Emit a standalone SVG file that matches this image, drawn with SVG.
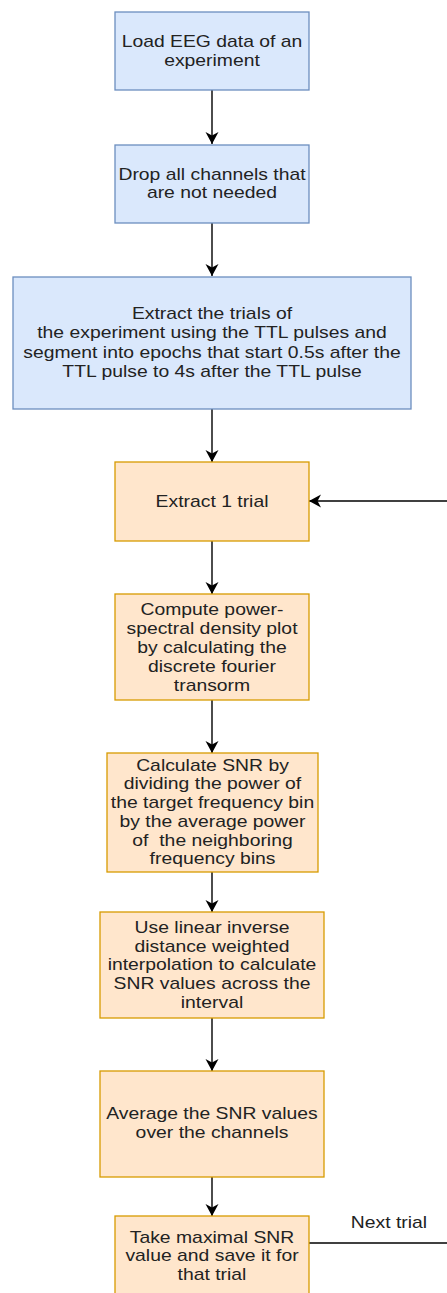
<svg xmlns="http://www.w3.org/2000/svg" width="447" height="1293" viewBox="0 0 447 1293">
<style>
.blue{fill:#dae8fc;stroke:#6c8ebf;stroke-width:1.3}
.orange{fill:#ffe6cc;stroke:#d79b00;stroke-width:1.3}
.lbl{font-family:"Liberation Sans",Arial,sans-serif;font-size:16px;fill:#222;text-anchor:middle}
.edge{stroke:#000;stroke-width:1.4;fill:none}
</style>
<defs>
<marker id="arr" viewBox="-13 -7 14 14" refX="0" refY="0" markerWidth="14" markerHeight="14" markerUnits="userSpaceOnUse" orient="auto">
<path d="M0,0 L-12,-6.5 L-8.5,0 L-12,6.5 Z" fill="#000"/>
</marker>
</defs>
<rect width="447" height="1293" fill="#fff"/>
<g id="connectors">
<line class="edge" x1="212" y1="90" x2="212" y2="144" marker-end="url(#arr)"/>
<line class="edge" x1="212" y1="223" x2="212" y2="276" marker-end="url(#arr)"/>
<line class="edge" x1="212" y1="409" x2="212" y2="462" marker-end="url(#arr)"/>
<line class="edge" x1="212" y1="541" x2="212" y2="594" marker-end="url(#arr)"/>
<line class="edge" x1="212" y1="700" x2="212" y2="753" marker-end="url(#arr)"/>
<line class="edge" x1="212" y1="872" x2="212" y2="912" marker-end="url(#arr)"/>
<line class="edge" x1="212" y1="1018" x2="212" y2="1071" marker-end="url(#arr)"/>
<line class="edge" x1="212" y1="1177" x2="212" y2="1216" marker-end="url(#arr)"/>
<line class="edge" x1="447" y1="501" x2="309" y2="501" marker-end="url(#arr)"/>
<line class="edge" x1="309" y1="1243" x2="447" y2="1243"/>
<text class="lbl" transform="translate(389,1227.5) scale(1.21,1)" x="0" y="0">Next trial</text>
</g>
<g id="n1">
<rect class="blue" x="115" y="12" width="194" height="78"/>
<text class="lbl" transform="translate(212,47) scale(1.21,1)"><tspan x="0" y="0">Load EEG data of an</tspan><tspan x="0" dy="19">experiment</tspan></text>
</g>
<g id="n2">
<rect class="blue" x="115" y="145" width="194" height="78"/>
<text class="lbl" transform="translate(212,179.5) scale(1.21,1)"><tspan x="0" y="0">Drop all channels that</tspan><tspan x="0" dy="19">are not needed</tspan></text>
</g>
<g id="n3">
<rect class="blue" x="13" y="277" width="398" height="132"/>
<text class="lbl" transform="translate(212,319) scale(1.21,1)"><tspan x="0" y="0">Extract the trials of</tspan><tspan x="0" dy="19.3">the experiment using the TTL pulses and</tspan><tspan x="0" dy="19.3">segment into epochs that start 0.5s after the</tspan><tspan x="0" dy="19.3">TTL pulse to 4s after the TTL pulse</tspan></text>
</g>
<g id="n4">
<rect class="orange" x="115" y="462" width="194" height="79"/>
<text class="lbl" transform="translate(212,506.5) scale(1.21,1)" x="0" y="0">Extract 1 trial</text>
</g>
<g id="n5">
<rect class="orange" x="115" y="594" width="194" height="106"/>
<text class="lbl" transform="translate(212,615.4) scale(1.21,1)"><tspan x="0" y="0">Compute power-</tspan><tspan x="0" dy="18.8">spectral density plot</tspan><tspan x="0" dy="18.8">by calculating the</tspan><tspan x="0" dy="18.8">discrete fourier</tspan><tspan x="0" dy="18.8">transorm</tspan></text>
</g>
<g id="n6">
<rect class="orange" x="107" y="753" width="211" height="119"/>
<text class="lbl" transform="translate(212.5,770.5) scale(1.21,1)"><tspan x="0" y="0">Calculate SNR by</tspan><tspan x="0" dy="18.8">dividing the power of</tspan><tspan x="0" dy="18.8">the target frequency bin</tspan><tspan x="0" dy="18.8">by the average power</tspan><tspan x="0" dy="18.8" xml:space="preserve">of  the neighboring</tspan><tspan x="0" dy="18.8">frequency bins</tspan></text>
</g>
<g id="n7">
<rect class="orange" x="100" y="912" width="224" height="106"/>
<text class="lbl" transform="translate(212,932.9) scale(1.21,1)"><tspan x="0" y="0">Use linear inverse</tspan><tspan x="0" dy="18.8">distance weighted</tspan><tspan x="0" dy="18.8">interpolation to calculate</tspan><tspan x="0" dy="18.8">SNR values across the</tspan><tspan x="0" dy="18.8">interval</tspan></text>
</g>
<g id="n8">
<rect class="orange" x="100" y="1071" width="224" height="106"/>
<text class="lbl" transform="translate(212,1119.4) scale(1.21,1)"><tspan x="0" y="0">Average the SNR values</tspan><tspan x="0" dy="19">over the channels</tspan></text>
</g>
<g id="n9">
<rect class="orange" x="115" y="1216" width="194" height="80"/>
<text class="lbl" transform="translate(212,1242.7) scale(1.21,1)"><tspan x="0" y="0">Take maximal SNR</tspan><tspan x="0" dy="18.8">value and save it for</tspan><tspan x="0" dy="18.8">that trial</tspan></text>
</g>
</svg>
